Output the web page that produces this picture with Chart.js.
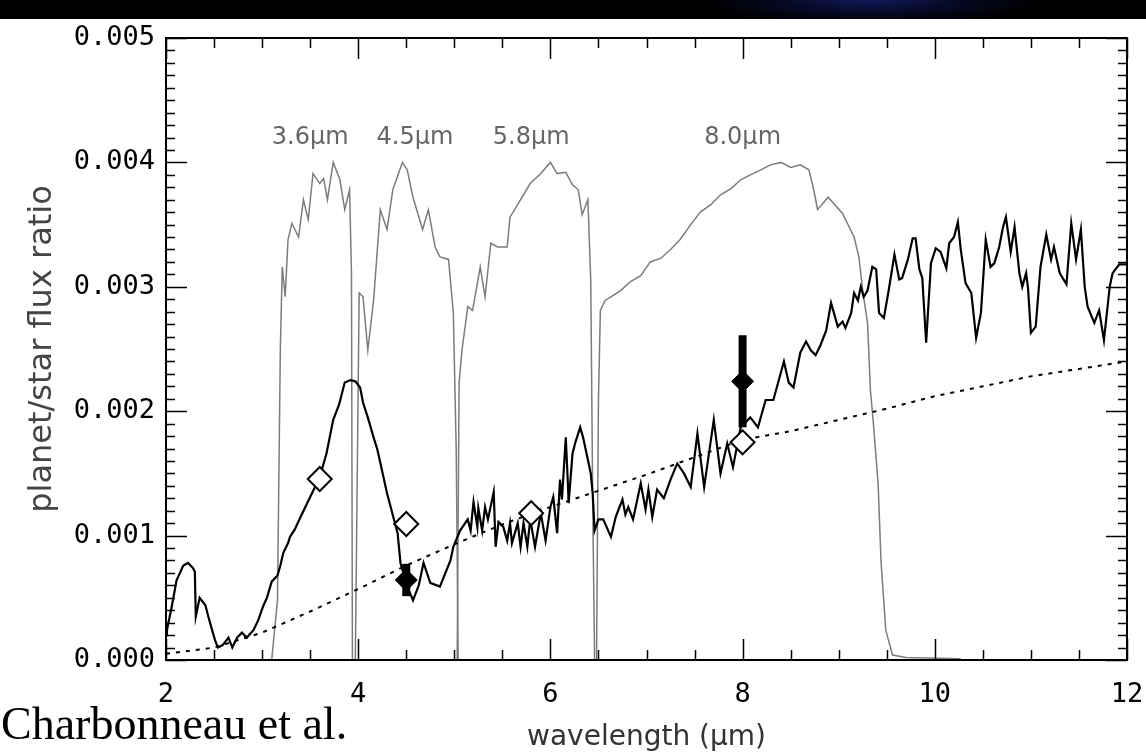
<!DOCTYPE html>
<html>
<head>
<meta charset="utf-8">
<script src="https://cdn.jsdelivr.net/npm/chart.js@4.4.0/dist/chart.umd.min.js"></script>
<style>
  html, body { margin: 0; padding: 0; background: #fff; }
  #wrap { position: relative; width: 1146px; height: 755px; overflow: hidden; background: #fff; }
  #topbar { position: absolute; left: 0; top: 0; width: 1146px; height: 19px;
    background: radial-gradient(ellipse 170px 26px at 870px 0px, #101a5a 0%, #050820 55%, #000 100%); }
  #chart { position: absolute; left: 0; top: 0; }
  #credit { position: absolute; left: 1px; top: 701px; font: 46px "Liberation Serif", serif;
    line-height: 46px; color: #000; white-space: nowrap; }
</style>
</head>
<body>
<div id="wrap">
  <div id="topbar"></div>
  <canvas id="chart" width="1146" height="755"></canvas>
  <div id="credit">Charbonneau et al.</div>
</div>
<script>
// model spectrum (wavelength in micron, planet/star flux ratio)
const modelX = [2.00,2.01,2.06,2.11,2.18,2.23,2.28,2.30,2.31,2.35,2.41,2.44,2.48,2.51,2.54,2.59,2.65,2.69,2.74,2.79,
  2.84,2.91,2.96,3.01,3.05,3.10,3.16,3.19,3.22,3.27,3.29,3.34,3.40,3.45,3.50,3.60,3.67,3.74,3.80,3.86,3.92,3.97,4.02,
  4.05,4.10,4.16,4.20,4.30,4.41,4.44,4.51,4.57,4.63,4.68,4.75,4.85,4.96,4.99,5.06,5.14,5.17,5.20,5.24,5.25,5.29,5.32,
  5.35,5.41,5.43,5.46,5.51,5.55,5.58,5.60,5.66,5.69,5.72,5.76,5.79,5.84,5.90,5.95,6.00,6.03,6.07,6.10,6.12,6.16,6.18,
  6.19,6.23,6.26,6.31,6.34,6.39,6.42,6.44,6.46,6.50,6.55,6.63,6.68,6.75,6.78,6.81,6.86,6.94,6.99,7.02,7.06,7.11,7.18,
  7.25,7.32,7.39,7.46,7.53,7.60,7.70,7.77,7.84,7.90,7.98,8.08,8.16,8.24,8.32,8.43,8.48,8.53,8.60,8.66,8.71,8.76,8.81,
  8.87,8.92,8.95,8.99,9.04,9.07,9.13,9.16,9.20,9.23,9.26,9.30,9.35,9.39,9.42,9.47,9.52,9.58,9.63,9.66,9.72,9.77,9.80,
  9.84,9.87,9.91,9.96,10.01,10.06,10.12,10.15,10.20,10.24,10.27,10.32,10.38,10.43,10.48,10.53,10.58,10.62,10.67,
  10.71,10.74,10.79,10.83,10.88,10.91,10.95,10.97,11.00,11.05,11.10,11.16,11.21,11.24,11.30,11.37,11.42,11.47,11.52,
  11.56,11.59,11.66,11.71,11.76,11.82,11.85,11.92,12.00];
const modelY = [0.00020,0.00024,0.00043,0.00064,0.00076,0.00078,0.00074,0.00071,0.00035,0.00050,0.00044,0.00035,
  0.00024,0.00016,0.00010,0.00012,0.00018,0.00010,0.00018,0.00022,0.00018,0.00024,0.00032,0.00043,0.00050,0.00063,
  0.00068,0.00076,0.00086,0.00094,0.00099,0.00105,0.00115,0.00123,0.00131,0.00147,0.00166,0.00193,0.00205,0.00223,
  0.00225,0.00224,0.00219,0.00207,0.00195,0.00179,0.00169,0.00134,0.00102,0.00078,0.00059,0.00048,0.00060,0.00078,
  0.00062,0.00059,0.00080,0.00091,0.00104,0.00113,0.00104,0.00127,0.00107,0.00122,0.00104,0.00123,0.00113,0.00135,
  0.00091,0.00111,0.00107,0.00096,0.00110,0.00094,0.00110,0.00091,0.00110,0.00091,0.00113,0.00091,0.00118,0.00096,
  0.00123,0.00131,0.00102,0.00145,0.00129,0.00179,0.00145,0.00126,0.00166,0.00175,0.00187,0.00179,0.00161,0.00150,
  0.00134,0.00104,0.00113,0.00113,0.00099,0.00115,0.00129,0.00117,0.00123,0.00113,0.00142,0.00121,0.00137,0.00115,
  0.00137,0.00130,0.00145,0.00158,0.00150,0.00139,0.00182,0.00139,0.00193,0.00150,0.00174,0.00155,0.00187,0.00195,
  0.00187,0.00209,0.00209,0.00240,0.00223,0.00219,0.00247,0.00256,0.00249,0.00245,0.00253,0.00265,0.00287,0.00279,
  0.00268,0.00272,0.00267,0.00279,0.00295,0.00289,0.00300,0.00292,0.00297,0.00316,0.00314,0.00279,0.00275,0.00297,
  0.00326,0.00306,0.00307,0.00322,0.00339,0.00339,0.00314,0.00307,0.00255,0.00319,0.00331,0.00328,0.00315,0.00335,
  0.00340,0.00352,0.00330,0.00303,0.00295,0.00259,0.00279,0.00338,0.00316,0.00319,0.00332,0.00348,0.00356,0.00328,
  0.00348,0.00311,0.00300,0.00311,0.00299,0.00263,0.00268,0.00316,0.00342,0.00322,0.00332,0.00311,0.00302,0.00351,
  0.00322,0.00346,0.00300,0.00284,0.00271,0.00281,0.00257,0.00300,0.00311,0.00318,0.00318];

// blackbody curve (dotted)
const bbX = [2.0,2.5,3.0,3.5,4.0,4.5,5.0,5.5,6.0,6.5,7.0,7.5,8.0,8.5,9.0,9.5,10.0,10.5,11.0,11.5,12.0];
const bbY = [0.00005,0.00010,0.00022,0.00039,0.00057,0.00076,0.00093,0.00109,0.00123,0.00136,0.00149,0.00163,
  0.00177,0.00184,0.00193,0.00202,0.00212,0.00220,0.00228,0.00234,0.00240];

// IRAC band responses, scaled to peak 0.004
const band36X = [3.10,3.16,3.19,3.21,3.24,3.27,3.31,3.38,3.43,3.48,3.53,3.60,3.64,3.68,3.74,3.81,3.86,3.91,3.93,3.94];
const band36Y = [0,0.00048,0.00252,0.00316,0.00292,0.00338,0.00351,0.00340,0.00370,0.00354,0.00391,0.00383,0.00387,
  0.00370,0.00400,0.00386,0.00362,0.00378,0.00311,0];
const band45X = [3.97,4.01,4.05,4.10,4.16,4.23,4.30,4.36,4.46,4.51,4.57,4.67,4.73,4.80,4.85,4.94,4.99,5.02,5.04];
const band45Y = [0,0.00295,0.00292,0.00249,0.00289,0.00362,0.00346,0.00378,0.00400,0.00394,0.00372,0.00346,0.00362,
  0.00332,0.00324,0.00322,0.00279,0.00169,0];
const band58X = [5.03,5.05,5.08,5.14,5.19,5.27,5.32,5.38,5.45,5.55,5.58,5.69,5.79,5.90,6.00,6.07,6.16,6.23,6.29,6.33,
  6.39,6.42,6.44,6.46];
const band58Y = [0,0.00223,0.00249,0.00284,0.00281,0.00316,0.00292,0.00335,0.00332,0.00332,0.00356,0.00370,0.00383,
  0.00391,0.00400,0.00391,0.00392,0.00382,0.00378,0.00358,0.00370,0.00305,0.00129,0];
const band80X = [6.48,6.50,6.52,6.57,6.65,6.73,6.83,6.94,7.04,7.15,7.25,7.35,7.46,7.56,7.67,7.77,7.88,7.98,8.08,8.19,
  8.29,8.40,8.50,8.60,8.69,8.74,8.78,8.89,9.04,9.16,9.21,9.25,9.30,9.33,9.36,9.41,9.44,9.49,9.56,9.70,10.27];
const band80Y = [0,0.00209,0.00281,0.00289,0.00293,0.00297,0.00304,0.00309,0.00320,0.00323,0.00330,0.00338,0.00350,
  0.00360,0.00366,0.00374,0.00379,0.00386,0.00390,0.00394,0.00398,0.00400,0.00396,0.00398,0.00394,0.00378,0.00362,
  0.00372,0.00359,0.00340,0.00324,0.00297,0.00271,0.00217,0.00191,0.00142,0.00080,0.00024,0.00004,0.00002,0.00001];

// band-averaged model (open diamonds) and measured eclipse depths (filled diamonds)
const bandModelX = [3.6, 4.5, 5.8, 8.0];
const bandModelY = [0.001455, 0.001093, 0.00118, 0.00175];
const measX = [4.5, 8.0];
const measY = [0.000643, 0.00224];
const measErr = [0.00013, 0.00037];

const bandLabels = ['3.6\u03bcm', '4.5\u03bcm', '5.8\u03bcm', '8.0\u03bcm'];
const bandLabelX = [3.5, 4.59, 5.8, 8.0];
const bandLabelY = 0.0042;

const pts = (xs, ys) => xs.map((x, i) => ({ x: x, y: ys[i] }));

const bandStyle = { borderColor: '#7c7c7c', borderWidth: 1.5, pointRadius: 0, fill: false };

const errSets = measX.map((x, i) => ({
  data: [{ x: x, y: measY[i] - measErr[i] }, { x: x, y: measY[i] + measErr[i] }],
  borderColor: '#000', borderWidth: 8, borderCapStyle: 'butt', pointRadius: 0, fill: false
}));

const framePlugin = {
  id: 'frame',
  afterDatasetsDraw(chart) {
    const { ctx, chartArea: a, scales: { x, y } } = chart;
    ctx.save();
    ctx.strokeStyle = '#000';
    ctx.lineWidth = 2;
    ctx.strokeRect(a.left, a.top, a.right - a.left, a.bottom - a.top);
    ctx.lineWidth = 1.5;
    ctx.beginPath();
    for (let i = 0; i <= 50; i++) {
      const py = Math.round(y.getPixelForValue(i / 10000)) + 0.5;
      const len = i % 10 === 0 ? 21 : 9;
      ctx.moveTo(a.left, py); ctx.lineTo(a.left + len, py);
      ctx.moveTo(a.right, py); ctx.lineTo(a.right - len, py);
    }
    for (let i = 0; i <= 20; i++) {
      const px = Math.round(x.getPixelForValue(2 + i / 2)) + 0.5;
      const len = i % 4 === 0 ? 21 : 10;
      ctx.moveTo(px, a.bottom); ctx.lineTo(px, a.bottom - len);
      ctx.moveTo(px, a.top); ctx.lineTo(px, a.top + len);
    }
    ctx.stroke();

    ctx.fillStyle = '#666';
    ctx.font = '24px "DejaVu Sans"';
    ctx.textAlign = 'center';
    ctx.textBaseline = 'middle';
    bandLabels.forEach((t, i) => {
      ctx.fillText(t, x.getPixelForValue(bandLabelX[i]), y.getPixelForValue(bandLabelY));
    });
    ctx.restore();
  }
};

new Chart(document.getElementById('chart'), {
  type: 'line',
  data: {
    datasets: [
      { data: pts(bandModelX, bandModelY), showLine: false, pointStyle: 'rectRot', pointRadius: 12,
        backgroundColor: '#fff', borderColor: '#000', borderWidth: 2 },
      { data: pts(measX, measY), showLine: false, pointStyle: 'rectRot', pointRadius: 11,
        backgroundColor: '#000', borderColor: '#000', borderWidth: 1 },
      ...errSets,
      { data: pts(modelX, modelY), borderColor: '#000', borderWidth: 2.2, pointRadius: 0, fill: false },
      { data: pts(bbX, bbY), borderColor: '#000', borderWidth: 2, borderDash: [4, 6], pointRadius: 0, fill: false },
      { data: pts(band36X, band36Y), ...bandStyle },
      { data: pts(band45X, band45Y), ...bandStyle },
      { data: pts(band58X, band58Y), ...bandStyle },
      { data: pts(band80X, band80Y), ...bandStyle }
    ]
  },
  options: {
    responsive: false,
    animation: false,
    devicePixelRatio: 1,
    layout: { padding: { top: 38, right: 19, left: 0, bottom: 0 } },
    plugins: { legend: { display: false }, tooltip: { enabled: false } },
    scales: {
      x: {
        type: 'linear', min: 2, max: 12,
        ticks: { stepSize: 2, padding: 19, color: '#000', font: { family: 'DejaVu Sans Mono', size: 27 } },
        grid: { display: false, drawTicks: false },
        border: { display: false },
        title: { display: true, text: 'wavelength (\u03bcm)', color: '#333',
          font: { family: 'DejaVu Sans', size: 28, lineHeight: 1.2 }, padding: { top: 0, bottom: 0 } },
        afterFit: s => { s.height = 95; s.paddingLeft = 0; s.paddingRight = 0; }
      },
      y: {
        min: 0, max: 0.005,
        ticks: { stepSize: 0.001, padding: 11, color: '#000', font: { family: 'DejaVu Sans Mono', size: 27 },
          callback: v => v.toFixed(3) },
        grid: { display: false, drawTicks: false },
        border: { display: false },
        title: { display: true, text: 'planet/star flux ratio', color: '#444',
          font: { family: 'DejaVu Sans', size: 32, lineHeight: 1.2 }, padding: { top: 23, bottom: 4 } },
        afterFit: s => { s.width = 166; s.paddingTop = 0; s.paddingBottom = 0; }
      }
    }
  },
  plugins: [framePlugin]
});
</script>
</body>
</html>
